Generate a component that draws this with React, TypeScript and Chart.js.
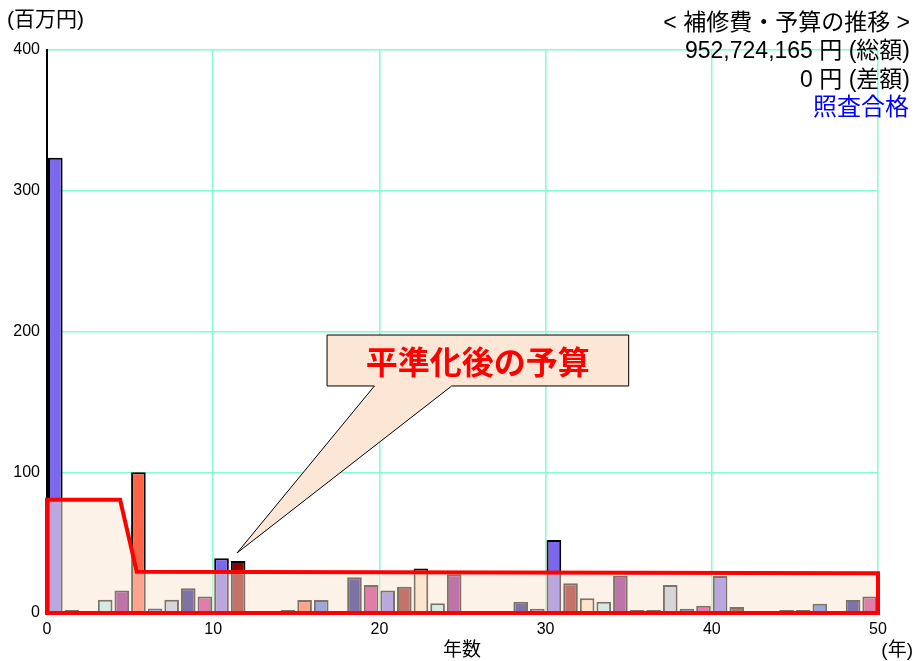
import React, { useEffect, useRef } from "react";
import { Chart, registerables } from "chart.js";

Chart.register(...registerables);

// ---- data ----
const years = [
  0, 1, 2, 3, 4, 5, 6, 7, 8, 9,
  10, 11, 12, 13, 14, 15, 16, 17, 18, 19,
  20, 21, 22, 23, 24, 25, 26, 27, 28, 29,
  30, 31, 32, 33, 34, 35, 36, 37, 38, 39,
  40, 41, 42, 43, 44, 45, 46, 47, 48, 49,
];
// repair cost per year (million yen)
const repairCosts = [
  323.5, 2.1, null, 9.5, 16, 100, 3.2, 9.5, 17.5, 11.8,
  38.9, 37, null, null, 2.1, 9.2, 9.2, null, 25.4, 19.9,
  15.9, 18.7, 31.7, 6.9, 27.5, null, null, null, 8, 3,
  51.9, 21.1, 10.4, 8, 26.5, 2.1, 2.1, 19.9, 3, 5.2,
  26.3, 4.3, null, null, 2.1, 2.1, 6.6, null, 9.2, 11.8,
];
// levelled budget outline
const budgetYears = [0, 0, 4.4, 5.4, 50, 50];
const budgetValues = [0, 80.5, 80.5, 29.3, 28.2, 0];
const baseYears = [0, 50];
const baseValues = [0, 0];

const xTicks = [0, 10, 20, 30, 40, 50];
const yTicks = [0, 100, 200, 300, 400];

const titleLines = ["< 補修費・予算の推移 >", "952,724,165 円 (総額)", "0 円 (差額)"];
const statusText = "照査合格";
const yUnitText = "(百万円)";
const xTitleText = "年数";
const xUnitText = "(年)";
const calloutText = "平準化後の予算";

// ---- styles ----
const barPalette = [
  "#7b68ee", "#8b0000", "#ffe4c4", "#afeeee", "#800080",
  "#ff6347", "#4169e1", "#b0c4de", "#000080", "#c71585",
];
const FONT = "'Liberation Sans', 'Noto Sans CJK JP', sans-serif";
const GRID = "#7fffd4";

// callout geometry in data coordinates
const callout = {
  left: 16.85, right: 35.0, top: 197.5, bottom: 161.3,
  baseFrom: 19.7, baseTo: 24.35, tipX: 11.43, tipY: 42.6,
};

const textPlugin = {
  id: "texts",
  afterDatasetsDraw(chart: any) {
    const ctx = chart.ctx;
    const xs = chart.scales.x;
    const ys = chart.scales.y;
    const L = xs.getPixelForValue(callout.left);
    const R = xs.getPixelForValue(callout.right);
    const T = ys.getPixelForValue(callout.top);
    const B = ys.getPixelForValue(callout.bottom);
    const b0 = xs.getPixelForValue(callout.baseFrom);
    const b1 = xs.getPixelForValue(callout.baseTo);
    const tx = xs.getPixelForValue(callout.tipX);
    const ty = ys.getPixelForValue(callout.tipY);
    ctx.save();
    ctx.beginPath();
    ctx.moveTo(L, T);
    ctx.lineTo(R, T);
    ctx.lineTo(R, B);
    ctx.lineTo(b1, B);
    ctx.lineTo(tx, ty);
    ctx.lineTo(b0, B);
    ctx.lineTo(L, B);
    ctx.closePath();
    ctx.fillStyle = "#fce6d6";
    ctx.fill();
    ctx.lineWidth = 1;
    ctx.strokeStyle = "#000";
    ctx.stroke();
    ctx.fillStyle = "#ff0000";
    ctx.font = `bold 32px 'Noto Sans CJK JP', sans-serif`;
    ctx.textAlign = "center";
    ctx.textBaseline = "middle";
    ctx.fillText(calloutText, (L + R) / 2, (T + B) / 2 + 1);
    ctx.restore();
  },
  afterDraw(chart: any) {
    const ctx = chart.ctx;
    ctx.save();
    ctx.textBaseline = "middle";
    ctx.fillStyle = "#000";
    ctx.textAlign = "right";
    ctx.font = `23px ${FONT}`;
    ctx.fillText(titleLines[0], 910, 24);
    ctx.fillText(titleLines[1], 910, 52);
    ctx.fillText(titleLines[2], 910, 81);
    ctx.fillStyle = "#0000ff";
    ctx.font = `24px ${FONT}`;
    ctx.fillText(statusText, 909, 108);
    ctx.fillStyle = "#000";
    ctx.textAlign = "left";
    ctx.font = `21px ${FONT}`;
    ctx.fillText(yUnitText, 7, 20);
    ctx.font = `19px ${FONT}`;
    ctx.textAlign = "center";
    ctx.fillText(xTitleText, 462, 651);
    ctx.textAlign = "right";
    ctx.fillText(xUnitText, 913, 651);
    ctx.restore();
  },
};

export default function App() {
  const ref = useRef<HTMLCanvasElement>(null);
  useEffect(() => {
    if (!ref.current) return;
    const chart = new Chart(ref.current, {
      type: "bar",
      data: {
        datasets: [
          {
            type: "line",
            label: "base",
            data: baseYears.map((x, i) => ({ x, y: baseValues[i] })),
            borderColor: "#ff0000",
            borderWidth: 4,
            borderCapStyle: "square",
            pointRadius: 0,
            fill: false,
            clip: false,
            order: 0,
          } as any,
          {
            type: "line",
            label: "budget",
            data: budgetYears.map((x, i) => ({ x, y: budgetValues[i] })),
            borderColor: "#ff0000",
            borderWidth: 4,
            borderJoinStyle: "miter",
            borderCapStyle: "square",
            backgroundColor: "rgba(251,229,209,0.5)",
            fill: "origin",
            pointRadius: 0,
            tension: 0,
            clip: false,
            order: 1,
          } as any,
          {
            type: "bar",
            label: "repair",
            data: years.map((x, i) => ({ x: x + 0.5, y: repairCosts[i] })),
            backgroundColor: years.map((_, i) => barPalette[i % barPalette.length]),
            borderColor: "#000",
            borderWidth: 2,
            barPercentage: 1,
            categoryPercentage: 0.88,
            order: 2,
          } as any,
        ],
      },
      options: {
        animation: false,
        responsive: true,
        maintainAspectRatio: false,
        layout: { padding: { top: 50, right: 37, left: 0, bottom: 0 } },
        plugins: { legend: { display: false }, tooltip: { enabled: false } },
        scales: {
          x: {
            type: "linear",
            min: 0,
            max: 50,
            offset: false,
            afterBuildTicks: (s: any) => {
              s.ticks = xTicks.map((v) => ({ value: v }));
            },
            afterFit: (s: any) => {
              s.height = 48;
            },
            grid: { color: GRID, lineWidth: 1.5, drawTicks: false, offset: false },
            border: { display: false },
            ticks: {
              color: "#000",
              padding: 7,
              font: { size: 16, family: FONT },
              maxRotation: 0,
            },
          },
          y: {
            type: "linear",
            min: 0,
            max: 400,
            afterBuildTicks: (s: any) => {
              s.ticks = yTicks.map((v) => ({ value: v }));
            },
            afterFit: (s: any) => {
              s.width = 47;
            },
            grid: { color: GRID, lineWidth: 1.5, drawTicks: false },
            border: { display: true, color: "#000", width: 2 },
            ticks: {
              color: "#000",
              padding: 7,
              font: { size: 16, family: FONT },
            },
          },
        },
      } as any,
      plugins: [textPlugin],
    });
    return () => chart.destroy();
  }, []);
  return (
    <div style={{ position: "absolute", left: 0, top: 0, width: 915, height: 661 }}>
      <canvas ref={ref} />
    </div>
  );
}
